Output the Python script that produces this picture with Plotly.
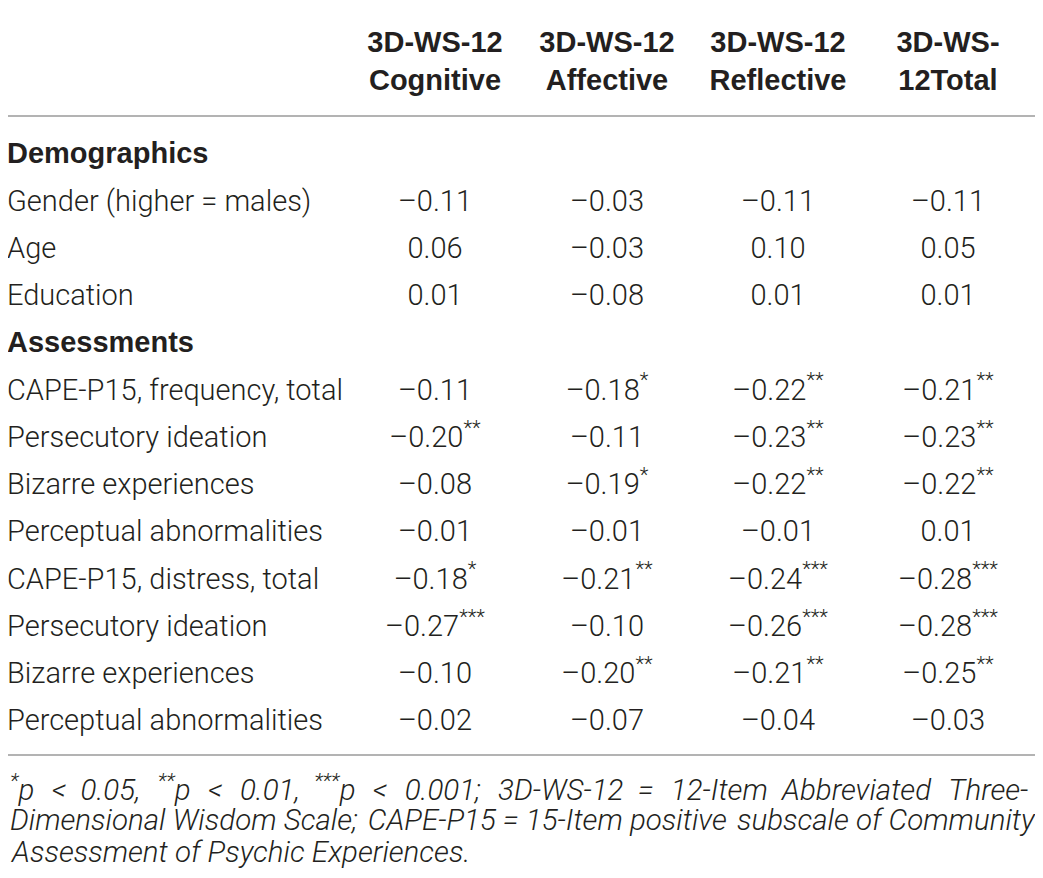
import plotly.graph_objects as go

# ---- data ----
columns = ["3D-WS-12<br>Cognitive", "3D-WS-12<br>Affective", "3D-WS-12<br>Reflective", "3D-WS-<br>12Total"]
sections = ["Demographics", "Assessments"]
demo_labels = ["Gender (higher = males)", "Age", "Education"]
assess_labels = ["CAPE-P15, frequency, total", "Persecutory ideation", "Bizarre experiences",
                 "Perceptual abnormalities", "CAPE-P15, distress, total", "Persecutory ideation",
                 "Bizarre experiences", "Perceptual abnormalities"]

cognitive = [-0.11, 0.06, 0.01, -0.11, -0.20, -0.08, -0.01, -0.18, -0.27, -0.10, -0.02]
cognitive_sig = [0, 0, 0, 0, 2, 0, 0, 1, 3, 0, 0]
affective = [-0.03, -0.03, -0.08, -0.18, -0.11, -0.19, -0.01, -0.21, -0.10, -0.20, -0.07]
affective_sig = [0, 0, 0, 1, 0, 1, 0, 2, 0, 2, 0]
reflective = [-0.11, 0.10, 0.01, -0.22, -0.23, -0.22, -0.01, -0.24, -0.26, -0.21, -0.04]
reflective_sig = [0, 0, 0, 2, 2, 2, 0, 3, 3, 2, 0]
total = [-0.11, 0.05, 0.01, -0.21, -0.23, -0.22, 0.01, -0.28, -0.28, -0.25, -0.03]
total_sig = [0, 0, 0, 2, 2, 2, 0, 3, 3, 2, 0]

footnote_lines = [
    ["<sup>*</sup><i>p</i>", "<", "0.05,", "<sup>**</sup><i>p</i>", "<", "0.01,", "<sup>***</sup><i>p</i>",
     "<", "0.001;", "3D-WS-12", "=", "12-Item", "Abbreviated", "Three-"],
    ["Dimensional", "Wisdom", "Scale;", "CAPE-P15", "=", "15-Item", "positive", "subscale", "of", "Community"],
    ["Assessment", "of", "Psychic", "Experiences."],
]

# ---- layout constants ----
W, H = 1043, 878
OFF = 8  # page body margin
TXT = "#231f20"
LINE = "#9a9a9a"
BODY = "Roboto"
BOLD = "Liberation Sans"
col_x = [435, 607, 778, 948]
row0_y = 156
row_step = 47.25
label_x = 8

# word gaps to approximate the justified footnote
A = " \u00a0\u200a"
B = " \u00a0"
C = " \u200a"
S = " "
footnote_gaps = [
    [A, B, A, A, A, B, A, A, A, B, A, B, A],
    [S, S, C, S, S, S, C, S, S],
    [S, S, S],
]

def fmt(v, s):
    t = f"{abs(v):.2f}"
    if v < 0:
        t = "\u2013" + t
    if s:
        t += "<sup>" + "*" * s + "</sup>"
    return t

row_kinds = [("section", sections[0])] + [("row", l) for l in demo_labels] + \
            [("section", sections[1])] + [("row", l) for l in assess_labels]
row_y = [row0_y + i * row_step for i in range(len(row_kinds))]
data_y = [y for (k, _), y in zip(row_kinds, row_y) if k == "row"]

fig = go.Figure()

sec_y = [y for (k, _), y in zip(row_kinds, row_y) if k == "section"]
sec_t = [f"<b>{t}</b>" for k, t in row_kinds if k == "section"]
fig.add_trace(go.Scatter(x=[label_x - 1] * len(sec_t), y=sec_y, text=sec_t, mode="text",
                         textposition="middle right",
                         textfont=dict(family=BOLD, size=29, color=TXT),
                         hoverinfo="skip", showlegend=False))
lab_t = [t for k, t in row_kinds if k == "row"]
fig.add_trace(go.Scatter(x=[label_x - 1] * len(lab_t), y=data_y, text=lab_t, mode="text",
                         textposition="middle right",
                         textfont=dict(family=BODY, size=29, color=TXT, weight=300),
                         hoverinfo="skip", showlegend=False))

for cx, vals, sigs in zip(col_x, [cognitive, affective, reflective, total],
                          [cognitive_sig, affective_sig, reflective_sig, total_sig]):
    fig.add_trace(go.Scatter(x=[cx] * len(vals), y=data_y,
                             text=[fmt(v, s) for v, s in zip(vals, sigs)],
                             mode="text", textposition="middle center",
                             textfont=dict(family=BODY, size=29, color=TXT, weight=300),
                             hoverinfo="skip", showlegend=False))

fig.add_trace(go.Scatter(x=col_x, y=[64] * 4, text=[f"<b>{c}</b>" for c in columns],
                         mode="text", textposition="middle center",
                         textfont=dict(family=BOLD, size=29, color=TXT),
                         hoverinfo="skip", showlegend=False))

for i, (words, gaps) in enumerate(zip(footnote_lines, footnote_gaps)):
    line = words[0] + "".join(g + w for g, w in zip(gaps, words[1:]))
    fig.add_annotation(x=label_x, y=788 + i * 32, xref="x", yref="y", text=f"<i>{line}</i>",
                       showarrow=False, xanchor="left", yanchor="middle",
                       font=dict(family=BODY, size=29.5, color=TXT, weight=300))

for y in [5, 116, 755]:
    fig.add_shape(type="line", x0=OFF, x1=1035, y0=y, y1=y, xref="x", yref="y",
                  line=dict(color=LINE, width=1.5))

fig.update_layout(width=W, height=H, margin=dict(l=0, r=0, t=0, b=0),
                  paper_bgcolor="white", plot_bgcolor="white",
                  xaxis=dict(range=[OFF, W + OFF], visible=False, fixedrange=True),
                  yaxis=dict(range=[H + OFF, OFF], visible=False, fixedrange=True))

fig.write_html("out.html")
